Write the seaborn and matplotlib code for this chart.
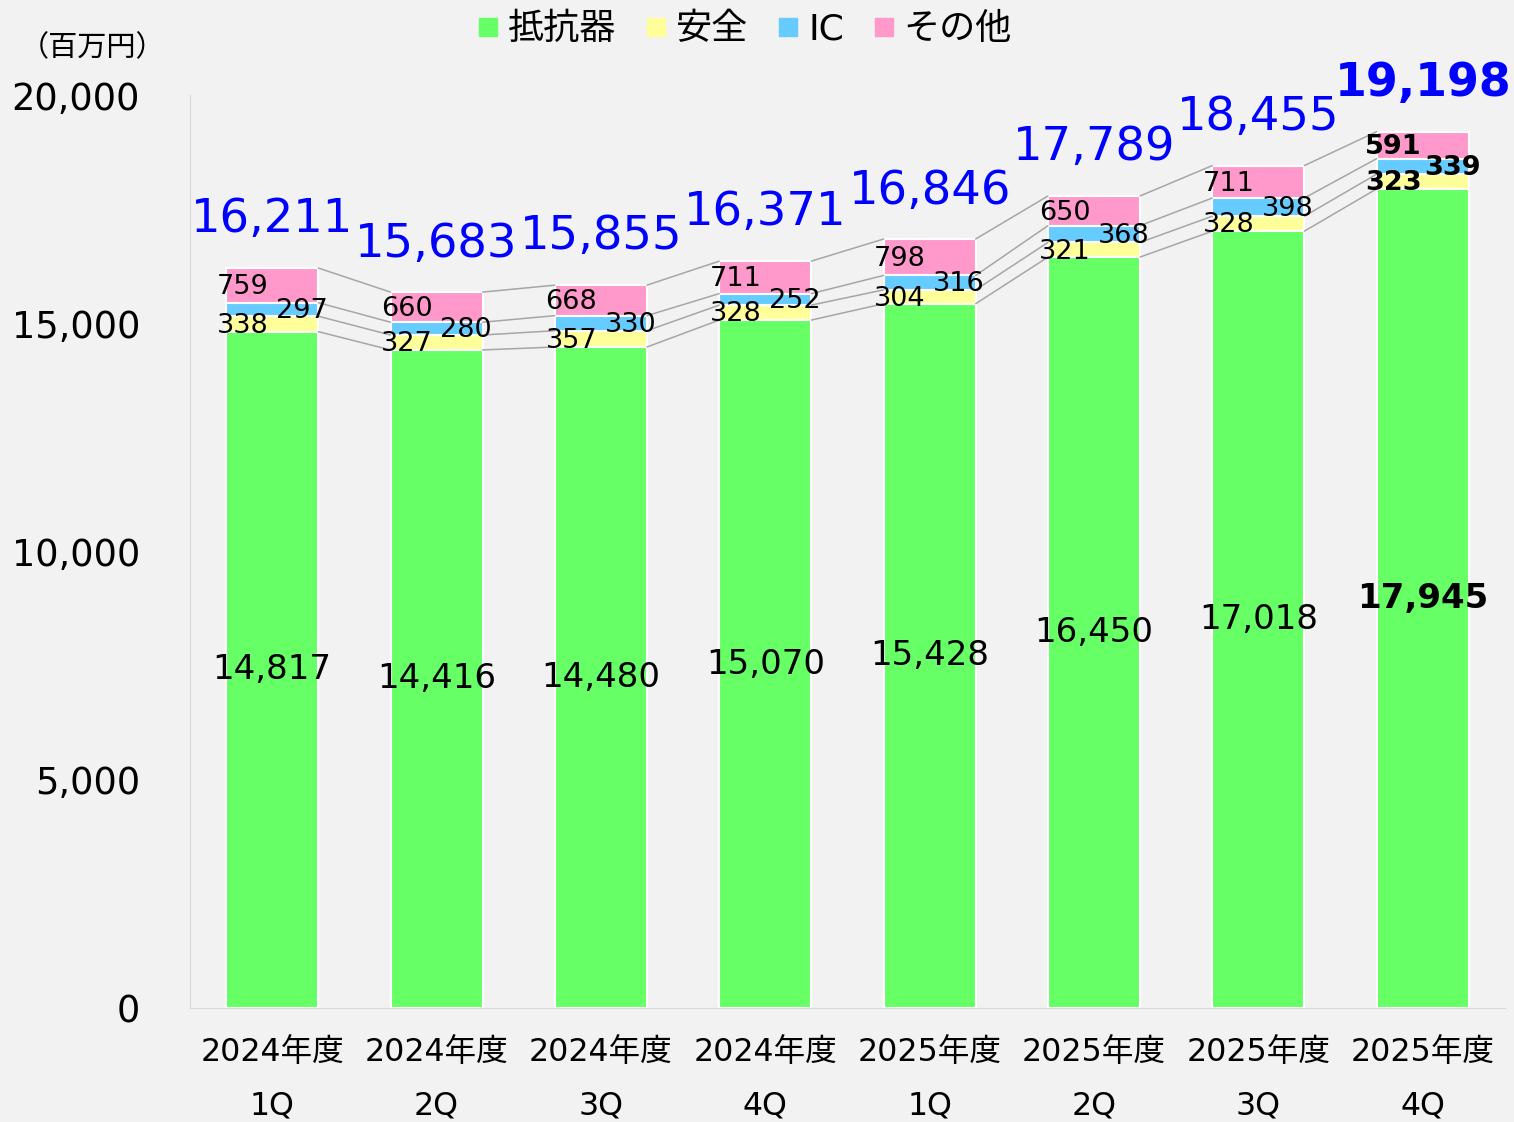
import matplotlib
matplotlib.use('Agg')
import matplotlib.pyplot as plt
from matplotlib.lines import Line2D
import seaborn as sns
import numpy as np
import pandas as pd

periods = ['2024年度\n1Q', '2024年度\n2Q', '2024年度\n3Q', '2024年度\n4Q',
           '2025年度\n1Q', '2025年度\n2Q', '2025年度\n3Q', '2025年度\n4Q']
resistor = [14817, 14416, 14480, 15070, 15428, 16450, 17018, 17945]
safety = [338, 327, 357, 328, 304, 321, 328, 323]
ic = [297, 280, 330, 252, 316, 368, 398, 339]
other = [759, 660, 668, 711, 798, 650, 711, 591]
totals = [16211, 15683, 15855, 16371, 16846, 17789, 18455, 19198]

series_names = ['抵抗器', '安全', 'IC', 'その他']
colors = ['#66ff66', '#ffff99', '#66ccff', '#ff99cc']
BG = '#f2f2f2'
BAR_W = 0.56

sns.set_style('white')
plt.rcParams['font.family'] = ['DejaVu Sans', 'Noto Sans CJK JP']
plt.rcParams['text.color'] = 'black'

df = pd.DataFrame({'period': periods, '抵抗器': resistor, '安全': safety,
                   'IC': ic, 'その他': other})
layers = np.array([resistor, safety, ic, other], dtype=float)
cum = np.cumsum(layers, axis=0)
for k, name in enumerate(series_names):
    df['cum_' + name] = cum[k]

fig = plt.figure(figsize=(15.14, 11.22), dpi=100, facecolor=BG)
ax = fig.add_axes([0.1255, 0.1016, 0.8685, 0.8137])
ax.set_facecolor(BG)

# stacked by overlaying cumulative sums, tallest first
for k in range(3, -1, -1):
    sns.barplot(data=df, x='period', y='cum_' + series_names[k], order=periods,
                color=colors[k], saturation=1, width=BAR_W, errorbar=None,
                edgecolor='white', linewidth=1.5, ax=ax)

# connector lines between bars
x = np.arange(len(periods))
half = BAR_W / 2
for k in range(4):
    for i in range(len(periods) - 1):
        ax.plot([x[i] + half, x[i + 1] - half], [cum[k][i], cum[k][i + 1]],
                color='#a6a6a6', lw=1.1, zorder=1)

last = len(periods) - 1
for i in range(len(periods)):
    bold = 'bold' if i == last else 'normal'
    bottoms = np.concatenate([[0], cum[:, i]])
    ax.text(x[i], (bottoms[0] + bottoms[1]) / 2, f'{resistor[i]:,}', ha='center',
            va='center', fontsize=24.5, fontweight=bold)
    ax.text(x[i] - 0.18, (bottoms[1] + bottoms[2]) / 2 - 40, f'{safety[i]:,}', ha='center',
            va='center', fontsize=19.5, fontweight=bold)
    ax.text(x[i] + 0.18, (bottoms[2] + bottoms[3]) / 2 - 40, f'{ic[i]:,}', ha='center',
            va='center', fontsize=19.5, fontweight=bold)
    ax.text(x[i] - 0.18, (bottoms[3] + bottoms[4]) / 2 - 40, f'{other[i]:,}', ha='center',
            va='center', fontsize=19.5, fontweight=bold)
    ax.annotate(f'{totals[i]:,}', (x[i], totals[i]), xytext=(0, 48),
                textcoords='offset pixels', ha='center', va='center',
                color='#0000ff', fontsize=33 if i == last else 33.5, fontweight=bold,
                annotation_clip=False)

ax.set_xlim(-0.5, len(periods) - 0.5)
ax.set_ylim(0, 20000)
ax.set_yticks([0, 5000, 10000, 15000, 20000])
ax.set_yticklabels([f'{v:,}' for v in [0, 5000, 10000, 15000, 20000]], fontsize=26.5)
ax.set_xticks(x)
ax.set_xticklabels(periods, fontsize=22.8, linespacing=1.94)
ax.tick_params(axis='y', length=0, pad=36, labelcolor='black')
ax.tick_params(axis='x', length=0, pad=21, labelcolor='black')
ax.set_xlabel('')
ax.set_ylabel('')
for s in ['top', 'right']:
    ax.spines[s].set_visible(False)
ax.spines['left'].set_color('#d9d9d9')
ax.spines['bottom'].set_color('#d9d9d9')

fig.text(0.061, 0.957, '（百万円）', fontsize=21, ha='center', va='center')

handles = [Line2D([], [], marker='s', linestyle='', markersize=13, color=c)
           for c in colors]
fig.legend(handles, series_names, loc='center', bbox_to_anchor=(0.4895, 0.974),
           ncol=4, frameon=False, fontsize=26, handletextpad=0.05,
           columnspacing=0.6, handlelength=1.0)

fig.savefig('out.png', dpi=100, facecolor=BG)
